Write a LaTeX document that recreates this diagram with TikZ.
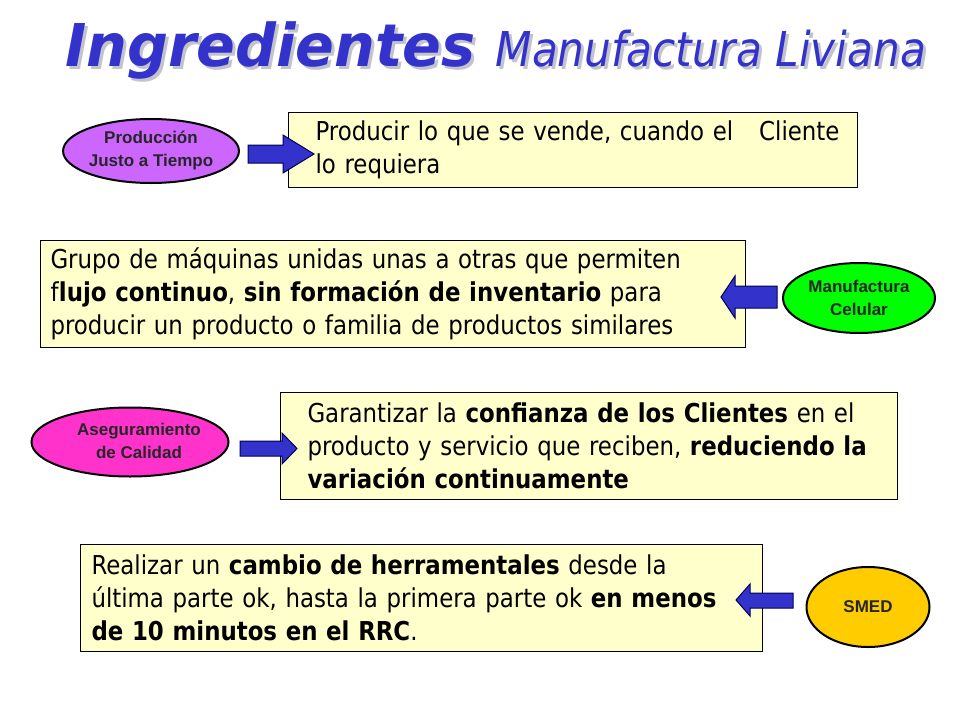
\documentclass[tikz,border=0pt]{standalone}
\usepackage{fontspec}
\usetikzlibrary{shapes.geometric}
\setmainfont{DejaVu Sans}
\newfontfamily\bodyfont[FakeStretch=0.88]{DejaVu Sans}
\newfontfamily\titlefont[FakeStretch=0.97]{DejaVu Sans}
\newfontfamily\subtitlefont[FakeStretch=0.88]{DejaVu Sans}
\newfontfamily\ellfont{Liberation Sans}
\definecolor{titleblue}{RGB}{51,51,204}
\definecolor{shadowgray}{RGB}{195,195,205}
\definecolor{boxfill}{RGB}{255,255,204}
\definecolor{arrowfill}{RGB}{51,51,204}
\definecolor{arrowline}{RGB}{0,0,90}
\definecolor{lilac}{RGB}{204,102,255}
\definecolor{lime}{RGB}{0,255,0}
\definecolor{pinkm}{RGB}{255,51,204}
\definecolor{goldy}{RGB}{255,204,0}
\newcommand{\titletext}{{\titlefont\bfseries\itshape\fontsize{59}{59}\selectfont Ingredientes}\hspace{20pt}{\subtitlefont\itshape\fontsize{48}{48}\selectfont Manufactura Liviana}}
\tikzset{
  txtbox/.style={draw=black, line width=1pt, fill=boxfill, rectangle, align=left,
    font=\bodyfont\fontsize{26}{33}\selectfont, inner ysep=0pt, anchor=north west},
  ell/.style={ellipse, draw=black, line width=2pt, inner sep=0pt, align=center,
    font=\ellfont\bfseries\fontsize{17}{23}\selectfont, text=black!85},
  blockarrow/.style={draw=arrowline, line width=1pt, fill=arrowfill, line join=miter},
}
\begin{document}
\begin{tikzpicture}[x=1pt,y=-1pt]
\useasboundingbox[fill=white] (0,0) rectangle (960,720);
% title
\node[anchor=base west, inner sep=0pt, text=shadowgray] (titleshadow) at (68,69) {\titletext};
\node[anchor=base west, inner sep=0pt, text=titleblue] (title) at (65,66) {\titletext};
% boxes
\node[txtbox, minimum width=569pt, minimum height=75pt, text width=561pt, inner xsep=4pt] (b1) at (288,112)
  {\hspace*{23pt}Producir lo que se vende, cuando el \ \ Cliente\\\hspace*{23pt}lo requiera};
\node[txtbox, minimum width=705pt, minimum height=107pt, text width=685pt, inner xsep=10pt] (b2) at (40,240)
  {Grupo de máquinas unidas unas a otras que permiten\\f\textbf{lujo continuo}, \textbf{sin formación de inventario} para\\producir un producto o familia de productos similares};
\node[txtbox, minimum width=617pt, minimum height=107pt, text width=563pt, inner xsep=27pt] (b3) at (280,392)
  {Garantizar la \textbf{confianza de los Clientes} en el\\producto y servicio que reciben, \textbf{reduciendo la}\\\textbf{variación continuamente}};
\node[txtbox, minimum width=682pt, minimum height=107pt, text width=660pt, inner xsep=11pt] (b4) at (80,544)
  {Realizar un \textbf{cambio de herramentales} desde la\\última parte ok, hasta la primera parte ok \textbf{en menos}\\\textbf{de 10 minutos en el RRC}.};
% ellipses
\node[ell, fill=lilac, minimum width=172pt, minimum height=64pt] (e1) at (151,151) {Producción\\Justo a Tiempo};
\node[ell, fill=lime, minimum width=152pt, minimum height=70pt] (e2) at (859,298) {Manufactura\\Celular};
\node[ell, fill=pinkm, minimum width=197pt, minimum height=69pt] (e3) at (130,442)
  {\makebox[0pt]{\hspace*{18pt}\begin{tabular}{@{}c@{}}Aseguramiento\\de Calidad\end{tabular}}};
\node[ell, fill=goldy, minimum width=123pt, minimum height=80pt] (e4) at (868,607) {SMED};
% block arrows
\draw[blockarrow] (248,145) -- (283,145) -- (283,135) -- (314,154) -- (283,173) -- (283,163) -- (248,163) -- cycle;
\draw[blockarrow] (777,286) -- (735,286) -- (735,276) -- (721,297) -- (735,318) -- (735,308) -- (777,308) -- cycle;
\draw[blockarrow] (240,441) -- (282,441) -- (282,433) -- (297,448.5) -- (282,464) -- (282,456) -- (240,456) -- cycle;
\draw[blockarrow] (793,593) -- (750,593) -- (750,584) -- (736,600) -- (750,616) -- (750,608) -- (793,608) -- cycle;
\end{tikzpicture}
\end{document}
